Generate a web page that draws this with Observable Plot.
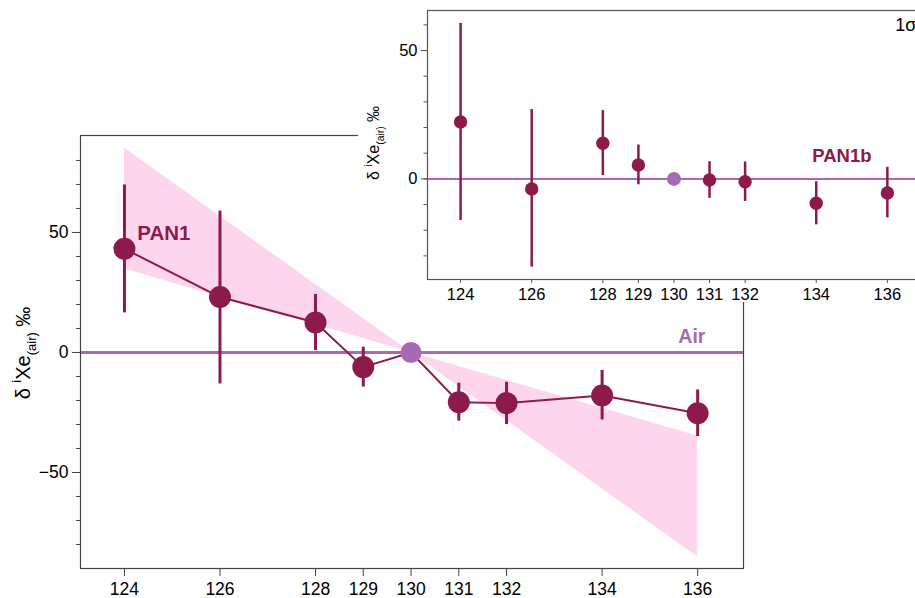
<!DOCTYPE html>
<html>
<head>
<meta charset="utf-8">
<script src="https://cdn.jsdelivr.net/npm/d3@7"></script>
<script src="https://cdn.jsdelivr.net/npm/@observablehq/plot@0.6"></script>
<style>
  html, body { margin: 0; padding: 0; background: #fff; overflow: hidden; }
  #wrap { position: relative; width: 915px; height: 598px; overflow: hidden; font-family: "Liberation Sans", Arial, sans-serif; }
  #main { position: absolute; left: 0; top: 0; }
  #inset { position: absolute; left: 358px; top: 0; width: 570px; height: 302px; background: #fff; }
</style>
</head>
<body>
<div id="wrap"><div id="main"></div><div id="inset"></div></div>
<script>
// ---- data ----
const massTicks = [124, 126, 128, 129, 130, 131, 132, 134, 136];
const airMass = 130;
const airDelta = 0;

// PAN1 (main panel)
const pan1Mass  = [124, 126, 128, 129, 131, 132, 134, 136];
const pan1Delta = [43.2, 23.1, 12.5, -6.1, -20.7, -21.1, -17.9, -25.3];
const pan1Hi    = [69.8, 58.9, 24.2, 2.2, -12.8, -12.4, -7.5, -15.6];
const pan1Lo    = [16.5, -13.1, 0.8, -14.4, -28.6, -30.0, -28.1, -35.0];

// mass-dependent fractionation band
const bandMass = [124, 130, 136];
const bandLo   = [34.8, 0, -85.2];
const bandHi   = [85.2, 0, -34.8];

// PAN1b (inset)
const pan1bMass  = [124, 126, 128, 129, 131, 132, 134, 136];
const pan1bDelta = [22.2, -3.9, 13.9, 5.4, -0.4, -1.1, -9.5, -5.5];
const pan1bHi    = [60.6, 27.0, 26.6, 13.2, 6.7, 6.6, -1.1, 4.5];
const pan1bLo    = [-16.2, -34.4, 1.3, -2.3, -7.6, -8.8, -17.9, -15.2];

// ---- tables ----
const pan1 = pan1Mass.map((m, i) => ({mass: m, d: pan1Delta[i], lo: pan1Lo[i], hi: pan1Hi[i]}));
const pan1Line = [...pan1, {mass: airMass, d: airDelta}].sort((a, b) => a.mass - b.mass);
const band = bandMass.map((m, i) => ({mass: m, lo: bandLo[i], hi: bandHi[i]}));
const pan1b = pan1bMass.map((m, i) => ({mass: m, d: pan1bDelta[i], lo: pan1bLo[i], hi: pan1bHi[i]}));
const air = [{mass: airMass, d: airDelta}];

const DARK = "#8d1a4b";
const AIR = "#a66ab4";
const BAND = "#fdd6ee";
const FONT = "Liberation Sans, Arial, sans-serif";

function addYLabel(svg, x, y, size) {
  const t = d3.select(svg).append("text")
    .attr("transform", `translate(${x},${y}) rotate(-90)`)
    .attr("text-anchor", "middle")
    .attr("font-size", size)
    .attr("font-family", FONT)
    .attr("fill", "#000");
  const s = size * 0.65;
  t.append("tspan").text("δ ");
  t.append("tspan").attr("font-size", s).attr("dy", -size * 0.45).text("i");
  t.append("tspan").attr("dy", size * 0.45).text("Xe");
  t.append("tspan").attr("font-size", s).attr("dy", size * 0.3).text("(air)");
  t.append("tspan").attr("dy", -size * 0.3).text(" ‰");
}

// ---- main chart ----
const main = Plot.plot({
  width: 915,
  height: 598,
  marginLeft: 80,
  marginRight: 172,
  marginTop: 135,
  marginBottom: 30,
  style: {fontFamily: FONT, fontSize: "17px", color: "#000", background: "transparent"},
  x: {domain: [123.08, 136.96]},
  y: {domain: [-90, 90.4]},
  marks: [
    Plot.areaY(band, {x: "mass", y1: "lo", y2: "hi", fill: BAND}),
    Plot.ruleY([airDelta], {stroke: AIR, strokeWidth: 3}),
    Plot.ruleX(pan1, {x: "mass", y1: "lo", y2: "hi", stroke: DARK, strokeWidth: 3}),
    Plot.line(pan1Line, {x: "mass", y: "d", stroke: DARK, strokeWidth: 2}),
    Plot.dot(pan1, {x: "mass", y: "d", r: 11, fill: DARK}),
    Plot.dot(air, {x: "mass", y: "d", r: 10.5, fill: AIR}),
    Plot.text(["PAN1"], {x: 124.27, y: 49.6, text: d => d, textAnchor: "start", fill: DARK, fontWeight: "bold", fontSize: 20.5}),
    Plot.text(["Air"], {x: 135.88, y: 6.7, text: d => d, textAnchor: "middle", fill: AIR, fontWeight: "bold", fontSize: 19.5}),
    Plot.frame({stroke: "#444", strokeWidth: 1.2}),
    Plot.axisY({ticks: d3.range(-80, 81, 10), tickSize: 4, text: null, label: null, stroke: "#444"}),
    Plot.axisY({ticks: [-50, 0, 50], tickSize: 8, tickPadding: 4, label: null, stroke: "#444", fontSize: 17.5}),
    Plot.axisX({ticks: massTicks, tickSize: 8, tickPadding: 6, label: null, stroke: "#444", fontSize: 17.5})
  ]
});
addYLabel(main, 30, 353, 20);
document.getElementById("main").appendChild(main);

// ---- inset ----
const inset = Plot.plot({
  width: 570,
  height: 302,
  marginLeft: 69,
  marginRight: 7,
  marginTop: 10,
  marginBottom: 23,
  style: {fontFamily: FONT, fontSize: "16px", color: "#000", background: "#fff"},
  x: {domain: [123.07, 136.96]},
  y: {domain: [-39.2, 65.6]},
  marks: [
    Plot.ruleY([airDelta], {stroke: AIR, strokeWidth: 2}),
    Plot.ruleX(pan1b, {x: "mass", y1: "lo", y2: "hi", stroke: DARK, strokeWidth: 2.5}),
    Plot.dot(pan1b, {x: "mass", y: "d", r: 6.7, fill: DARK}),
    Plot.dot(air, {x: "mass", y: "d", r: 7, fill: AIR}),
    Plot.text(["PAN1b"], {x: 134.72, y: 8.7, text: d => d, textAnchor: "middle", fill: DARK, fontWeight: "bold", fontSize: 18.5}),
    Plot.text(["1σ"], {x: 136.22, y: 59.7, text: d => d, textAnchor: "start", fill: "#000", fontSize: 18}),
    Plot.frame({stroke: "#555", strokeWidth: 1.2}),
    Plot.axisY({ticks: d3.range(-30, 61, 10), tickSize: 3.5, text: null, label: null, stroke: "#555"}),
    Plot.axisY({ticks: [0, 50], tickSize: 6, tickPadding: 4, label: null, stroke: "#555", fontSize: 16.5}),
    Plot.axisX({ticks: massTicks, tickSize: 4, tickPadding: 5, label: null, stroke: "#555", fontSize: 16.5})
  ]
});
addYLabel(inset, 21, 143, 16);
document.getElementById("inset").appendChild(inset);
</script>
</body>
</html>
